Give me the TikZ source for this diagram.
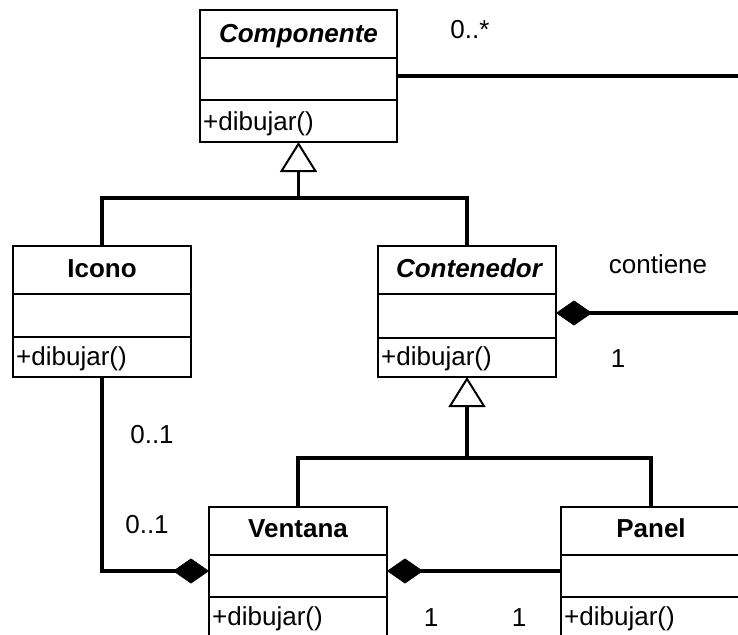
\documentclass[tikz,border=0pt]{standalone}
\usepackage{fontspec}
\setmainfont{Liberation Sans}
\usetikzlibrary{arrows.meta}
\begin{document}
\begin{tikzpicture}[x=1pt,y=-1pt,
 cls/.style={draw, line width=2pt, anchor=north west, inner sep=0pt, outer sep=0pt},
 sepline/.style={line width=2pt},
 title/.style={font=\fontsize{26}{30}\selectfont\bfseries, anchor=base, inner sep=0pt},
 ititle/.style={title, font=\fontsize{26}{30}\selectfont\bfseries\itshape},
 meth/.style={font=\fontsize{26}{30}\selectfont, anchor=base west, inner sep=0pt},
 lbl/.style={font=\fontsize{26}{30}\selectfont, anchor=base, inner sep=0pt},
 conn/.style={line width=3.5pt},
 gen/.style={conn, -{Triangle[open, length=30pt, width=37pt, line width=2pt]}},
 compo/.style={conn, -{Diamond[length=36pt, width=25pt, line width=0.5pt]}},
]
\useasboundingbox (0,0) rectangle (738,634);
\clip (0,0) rectangle (738,634);

% classes
\node[cls, minimum width=197pt, minimum height=132pt] (comp) at (200,10) {};
\node[cls, minimum width=178pt, minimum height=131pt] (icono) at (13,246) {};
\node[cls, minimum width=178pt, minimum height=131pt] (cont) at (378,246) {};
\node[cls, minimum width=178pt, minimum height=140pt] (vent) at (209,507) {};
\node[cls, minimum width=180pt, minimum height=140pt] (panel) at (561,507) {};

% compartments
\foreach \n/\a/\b in {comp/58/100, icono/294/337, cont/294/338, vent/555/597, panel/555/597}{
  \draw[sepline] (\n.west |- 0,\a) -- (\n.east |- 0,\a);
  \draw[sepline] (\n.west |- 0,\b) -- (\n.east |- 0,\b);
}

% titles
\node[ititle] (tcomp) at (298.5,42) {Componente};
\node[title] (tico) at (102,277) {Icono};
\node[ititle] (tcont) at (469,277) {Contenedor};
\node[title] (tvent) at (298,537) {Ventana};
\node[title] (tpan) at (651,537) {Panel};

% methods
\node[meth] (mcomp) at (203,130) {+dibujar()};
\node[meth] (mico) at (16,365) {+dibujar()};
\node[meth] (mcont) at (381,365) {+dibujar()};
\node[meth] (mvent) at (212,625) {+dibujar()};
\node[meth] (mpan) at (564,625) {+dibujar()};

% labels
\node[lbl] (l1) at (470,38) {0..*};
\node[lbl] (l2) at (658,273) {contiene};
\node[lbl] (l3) at (618,367) {1};
\node[lbl] (l4) at (152,443) {0..1};
\node[lbl] (l5) at (147,533) {0..1};
\node[lbl] (l6) at (431,626) {1};
\node[lbl] (l7) at (519,626) {1};

% connectors
\coordinate (e1) at (738,76);
\draw[conn] (comp.east) -- (e1);

\coordinate (j1) at (298.5,198);
\draw[gen] (j1) -- (comp.south);
\draw[conn] (icono.north) |- (j1) -| (cont.north);

\coordinate (e2) at (738,313);
\draw[compo] (e2) -- (cont.east |- e2);

\coordinate (j2) at (467,458);
\draw[gen] (j2) -- (cont.south);
\draw[conn] (vent.north) |- (j2) -| (panel.north);

\coordinate (v1) at (209,571);
\draw[compo] (icono.south) |- (v1);
\draw[compo] (panel.west |- v1) -- (vent.east |- v1);
\end{tikzpicture}
\end{document}
